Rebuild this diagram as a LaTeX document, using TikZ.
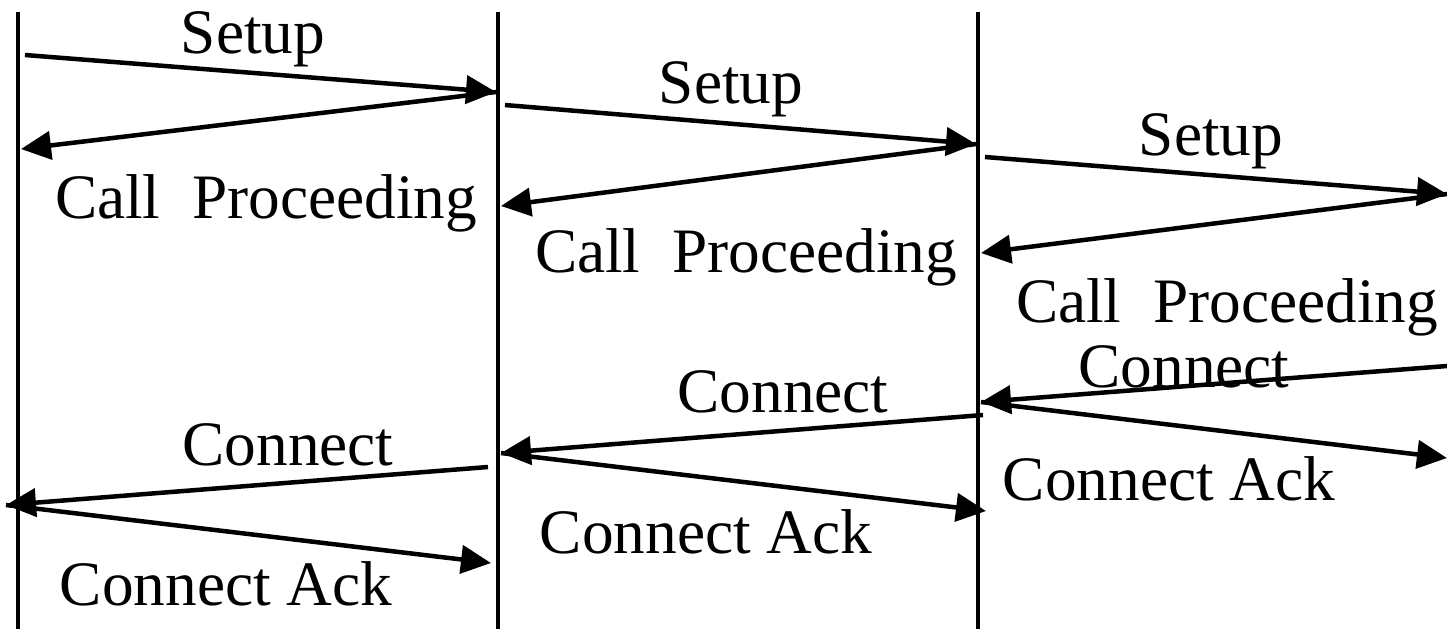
\documentclass[tikz,border=0pt]{standalone}
\usepackage{fontspec}
\setmainfont{Liberation Serif}
\usetikzlibrary{arrows.meta}
\tikzset{
  msg/.style={line width=0.45mm,-{Triangle[length=3mm,width=2.8mm]}},
  life/.style={line width=0.45mm},
  lbl/.style={anchor=base,inner sep=0pt,font=\fontsize{18}{20}\selectfont}
}
\begin{document}
\begin{tikzpicture}[x=0.01cm,y=-0.01cm]
\useasboundingbox (0,0) rectangle (1447,629);
% lifelines
\draw[life] (18,12) -- (18,629);
\draw[life] (498,12) -- (498,629);
\draw[life] (978,12) -- (978,629);
% end points of the messages
\coordinate (s1a) at (25,55);   \coordinate (s1b) at (496,92);
\coordinate (p1b) at (21,149);
\coordinate (s2a) at (505,105); \coordinate (s2b) at (976,144);
\coordinate (p2b) at (501,206);
\coordinate (s3a) at (985,157); \coordinate (s3b) at (1447,194);
\coordinate (p3b) at (981,253);
\coordinate (c3a) at (1447,366); \coordinate (c3b) at (981,402);
\coordinate (k3b) at (1447,458);
\coordinate (c2a) at (983,415); \coordinate (c2b) at (501,453);
\coordinate (k2b) at (986,511);
\coordinate (c1a) at (488,467); \coordinate (c1b) at (6,505);
\coordinate (k1b) at (491,563);
% setup / call proceeding
\draw[msg] (s1a) -- (s1b);
\draw[msg] (s1b) -- (p1b);
\draw[msg] (s2a) -- (s2b);
\draw[msg] (s2b) -- (p2b);
\draw[msg] (s3a) -- (s3b);
\draw[msg] (s3b) -- (p3b);
% connect / connect ack
\draw[msg] (c3a) -- (c3b);
\draw[msg] (c3b) -- (k3b);
\draw[msg] (c2a) -- (c2b);
\draw[msg] (c2b) -- (k2b);
\draw[msg] (c1a) -- (c1b);
\draw[msg] (c1b) -- (k1b);
% labels
\node[lbl] (ls1) at (253,53) {Setup};
\node[lbl] (lp1) at (266,218) {Call\ \ Proceeding};
\node[lbl] (ls2) at (731,103) {Setup};
\node[lbl] (lp2) at (746,272) {Call\ \ Proceeding};
\node[lbl] (ls3) at (1211,155) {Setup};
\node[lbl] (lp3) at (1227,322) {Call\ \ Proceeding};
\node[lbl] (lc3) at (1184,387) {Connect};
\node[lbl] (lk3) at (1169,500) {Connect Ack};
\node[lbl] (lc2) at (783,412) {Connect};
\node[lbl] (lk2) at (706,553) {Connect Ack};
\node[lbl] (lc1) at (288,465) {Connect};
\node[lbl] (lk1) at (226,605) {Connect Ack};
\end{tikzpicture}
\end{document}
